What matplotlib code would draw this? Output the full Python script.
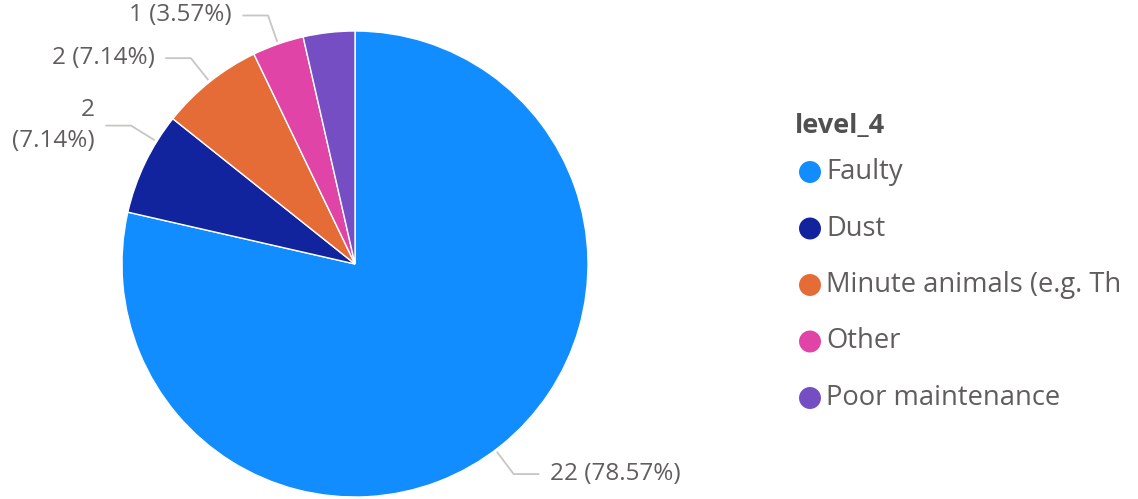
import numpy as np
import matplotlib
matplotlib.use("Agg")
import matplotlib.pyplot as plt

plt.rcParams['font.family'] = ['Open Sans', 'DejaVu Sans']

# data
categories = ["Faulty", "Dust", "Minute animals (e.g. Th", "Other", "Poor maintenance"]
counts = [22, 2, 2, 1, 1]
colors = ["#118DFF", "#12239E", "#E66C37", "#E044A7", "#744EC2"]
legend_title = "level_4"
# which wedges get a data label (Power BI hides the one that doesn't fit)
show_label = [True, True, True, True, False]
label_text = ["22 (78.57%)", "2\n(7.14%)", "2 (7.14%)", "1 (3.57%)", ""]

W, H = 1138, 499
fig = plt.figure(figsize=(W / 100, H / 100), dpi=100)

# pie area: center (355,264) px, radius 233 px
cx, cy, r = 355, 264, 233
ax = fig.add_axes([(cx - r) / W, (H - cy - r) / H, 2 * r / W, 2 * r / H])
wedges, _ = ax.pie(counts, colors=colors, startangle=90, counterclock=False,
                   radius=1, wedgeprops=dict(edgecolor="white", linewidth=1))
ax.set_xlim(-1, 1)
ax.set_ylim(-1, 1)
ax.set_aspect("auto")
ax.axis("off")

total = sum(counts)
line_col = "#C8C6C4"
txt_col = "#605E5C"
start = 90.0
nudge = {0: -1.5, 1: -6.0}  # labels moved a bit to avoid crowding
for i, c in enumerate(counts):
    span = 360.0 * c / total
    mid = start - span / 2
    start -= span
    if not show_label[i]:
        continue
    a = np.deg2rad(mid + nudge.get(i, 0))
    x0, y0 = 1.01 * np.cos(a), 1.01 * np.sin(a)
    x1, y1 = 1.13 * np.cos(a), 1.13 * np.sin(a)
    side = 1 if np.cos(a) > 0 else -1
    x2 = x1 + side * 0.11
    ax.plot([x0, x1, x2], [y0, y1, y1], color=line_col, lw=1.3,
            clip_on=False, solid_capstyle="butt")
    ax.text(x2 + side * 0.045, y1, label_text[i],
            ha="left" if side > 0 else "right", va="center",
            multialignment="right", fontsize=17.5, color=txt_col,
            linespacing=1.35, clip_on=False)

# legend
lax = fig.add_axes([0, 0, 1, 1])
lax.set_xlim(0, W)
lax.set_ylim(H, 0)
lax.axis("off")
lax.text(795, 126, legend_title, fontsize=19.5, fontweight="bold",
         color="#505050", va="center", ha="left")
for i, (name, col) in enumerate(zip(categories, colors)):
    y = 172 + i * 56.5
    lax.scatter([810], [y], s=250, color=col, edgecolors="none")
    lax.text(826, y, name, fontsize=19.7, color=txt_col, va="center", ha="left")

fig.savefig("out.png", dpi=100)
